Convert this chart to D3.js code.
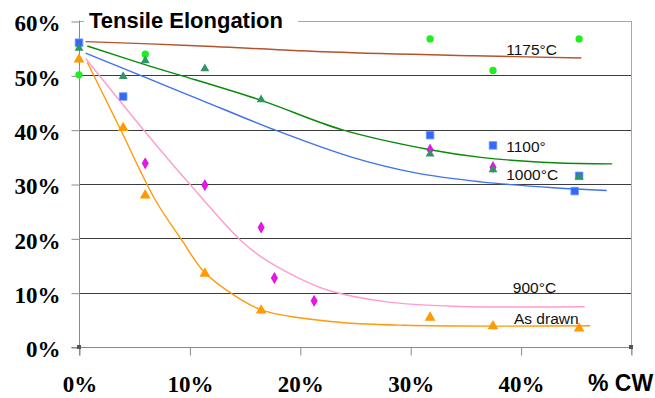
<!DOCTYPE html>
<html><head><meta charset="utf-8">
<script src="https://cdn.jsdelivr.net/npm/d3@7"></script>
<style>
html,body{margin:0;padding:0;background:#fff;}
svg{display:block;}
</style></head>
<body>
<svg id="chart" width="655" height="398"></svg>
<script>
// ---- data (percent cold work vs. percent elongation) ----
const yTicks = [0, 10, 20, 30, 40, 50, 60];
const xTicks = [0, 10, 20, 30, 40];
const xTickLabels = ["0%", "10%", "20%", "30%", "40%"];
const xAxisTitle = "% CW";
const chartTitle = "Tensile Elongation";

const cw1175 = [0, 6.0, 31.8, 37.5, 45.3];
const el1175 = [50.1, 53.9, 56.7, 50.9, 56.7];

const cw1100 = [0, 4.0, 31.8, 37.5, 44.9, 45.3];
const el1100 = [56.0, 46.1, 39.0, 37.1, 28.7, 31.5];

const cw900 = [6.0, 11.4, 16.5, 17.7, 21.3, 31.8, 37.5];
const el900 = [33.8, 29.8, 22.0, 12.7, 8.5, 36.3, 33.1];

const cw1000 = [0, 4.0, 6.0, 11.4, 16.5, 31.8, 37.5, 45.3];
const el1000 = [55.2, 50.0, 52.9, 51.4, 45.7, 35.7, 32.8, 31.5];

const cwDrawn = [0, 4.0, 6.0, 11.4, 16.5, 31.8, 37.5, 45.3];
const elDrawn = [53.1, 40.5, 28.1, 13.7, 6.9, 5.6, 4.0, 3.6];

// trend lines
const trend1175 = [[0.6,56.2],[10,55.5],[22.8,54.3],[35.8,53.6],[45.5,53.2]];
const trend1100 = [[0.6,54.1],[6.4,49.3],[11,45.5],[17.8,39.9],[24.6,35.0],[30.6,32.0],[36.4,30.4],[43,29.3],[47.8,28.8]];
const trend1000 = [[0.75,55.4],[6.4,51.7],[9.2,50.0],[16.5,45.4],[23.8,40.0],[31.8,36.3],[36.4,34.9],[43,33.9],[48.3,33.7]];
const trend900  = [[0.6,53.1],[6.4,38.6],[10.1,29.8],[14.6,19.7],[16.5,16.6],[20,12.6],[22.8,10.3],[27.9,8.3],[33.9,7.5],[45.8,7.4]];
const trendDrawn = [[0.75,52.4],[3.65,40.5],[6.9,27.1],[9.3,19.7],[11.3,13.9],[14,9.6],[16.7,6.7],[22.8,4.7],[29.4,4.0],[46.3,3.9]];

const seriesLabels = ["1175°C", "1100°", "1000°C", "900°C", "As drawn"];
const labelAnchorX = [38.7, 38.7, 38.7, 39.3, 39.4];
const labelAnchorY = [53.7, 35.9, 30.8, 10.0, 4.3];

// ---- layout ----
const W = 655, H = 398;
const L = 79, R = 631, T = 21, B = 347;
const SERIF = '"Liberation Serif"';
const SANS = '"Liberation Sans"';
const svg = d3.select("#chart");
const x = d3.scaleLinear().domain([0, 50]).range([L, R]);
const y = d3.scaleLinear().domain([0, 60]).range([B, T]);

svg.append("rect").attr("width", W).attr("height", H).attr("fill", "#fff");

// gridlines
svg.append("g").selectAll("line").data(yTicks.filter(d => d > 0)).join("line")
  .attr("x1", L).attr("x2", R)
  .attr("y1", d => Math.round(y(d)) + 0.5).attr("y2", d => Math.round(y(d)) + 0.5)
  .attr("stroke", d => d === 60 ? "#a6a6a6" : "#3c3c3c").attr("stroke-width", 1);
// right border
svg.append("line").attr("x1", R + 0.5).attr("x2", R + 0.5).attr("y1", T).attr("y2", B + 8)
  .attr("stroke", "#a6a6a6");

// y axis
const yAxis = d3.axisLeft(y).tickValues(yTicks).tickSize(8).tickFormat(d => d + "%");
const gy = svg.append("g").attr("transform", `translate(${L + 0.5},0.5)`).call(yAxis);
gy.select(".domain").attr("stroke", "#8a8a8a").attr("d", `M0,${T - 1}V${B + 8}`);
gy.selectAll(".tick line").attr("stroke", "#8a8a8a");
gy.selectAll(".tick text")
  .attr("x", -19).attr("dy", "0.40em")
  .style("font-family", SERIF).style("font-weight", "bold").style("font-size", "23px")
  .attr("fill", "#000");

// x axis
const xAxis = d3.axisBottom(x).tickValues([0, 10, 20, 30, 40, 50]).tickSize(8)
  .tickFormat((d, i) => i < xTickLabels.length ? xTickLabels[i] : "");
const gx = svg.append("g").attr("transform", `translate(0.5,${B + 0.5})`).call(xAxis);
gx.select(".domain").attr("stroke", "#8a8a8a").attr("d", `M${L - 8},0H${R}`);
gx.selectAll(".tick line").attr("stroke", "#8a8a8a");
gx.selectAll(".tick text")
  .attr("y", 44).attr("dy", 0)
  .style("font-family", SERIF).style("font-weight", "bold").style("font-size", "23px")
  .attr("fill", "#000");

svg.append("text").attr("x", 588).attr("y", 391).text(xAxisTitle)
  .style("font-family", SANS).style("font-weight", "bold").style("font-size", "23px")
  .attr("fill", "#000");

// small corner markers
[[0, 0], [50, 0]].forEach(p => {
  svg.append("rect").attr("x", x(p[0]) - 2).attr("y", y(p[1]) - 2).attr("width", 4).attr("height", 4)
    .attr("fill", "#555");
});

// trend lines
const line = d3.line().x(d => x(d[0])).y(d => y(d[1])).curve(d3.curveCatmullRom.alpha(0.5));
const trends = [
  [trend1175, "#b5532c"],
  [trend1000, "#0a8a0a"],
  [trend1100, "#3d72f0"],
  [trend900, "#ff9ccf"],
  [trendDrawn, "#ff9a0a"]
];
trends.forEach(t => {
  svg.append("path").attr("d", line(t[0])).attr("fill", "none")
    .attr("stroke", t[1]).attr("stroke-width", 1.4);
});

// markers
const pts = (xs, ys) => xs.map((v, i) => [v, ys[i]]);
const sym = (type, size) => d3.symbol().type(type).size(size);

svg.append("g").selectAll("path").data(pts(cw1175, el1175)).join("path")
  .attr("transform", d => `translate(${x(d[0])},${y(d[1])})`)
  .attr("d", sym(d3.symbolCircle, 42)).attr("fill", "#1fee1f");

svg.append("g").selectAll("path").data(pts(cw1100, el1100)).join("path")
  .attr("transform", d => `translate(${x(d[0])},${y(d[1])})`)
  .attr("d", sym(d3.symbolSquare, 58)).attr("fill", "#3369f5").attr("stroke", "#6f98ff").attr("stroke-width", 0.8);

svg.append("g").selectAll("path").data(pts(cw900, el900)).join("path")
  .attr("transform", d => `translate(${x(d[0])},${y(d[1])})`)
  .attr("d", sym(d3.symbolDiamond, 34)).attr("fill", "#f010f0").attr("stroke", "#b000c0").attr("stroke-width", 0.6);

svg.append("g").selectAll("path").data(pts(cw1000, el1000)).join("path")
  .attr("transform", d => `translate(${x(d[0])},${y(d[1]) + 1})`)
  .attr("d", sym(d3.symbolTriangle, 34)).attr("fill", "#2f9466");

svg.append("g").selectAll("path").data(pts(cwDrawn, elDrawn)).join("path")
  .attr("transform", d => `translate(${x(d[0])},${y(d[1]) + 1})`)
  .attr("d", sym(d3.symbolTriangle, 50)).attr("fill", "#ff9a00");

// series labels
svg.append("g").selectAll("text").data(seriesLabels).join("text")
  .attr("x", (d, i) => x(labelAnchorX[i])).attr("y", (d, i) => y(labelAnchorY[i]))
  .text(d => d)
  .style("font-family", SANS).style("font-size", "15.5px").attr("fill", "#111");

// title with white backing
svg.append("rect").attr("x", 84).attr("y", 8).attr("width", 214).attr("height", 26).attr("fill", "#fff");
svg.append("text").attr("x", 89).attr("y", 27.5).text(chartTitle)
  .style("font-family", SANS).style("font-weight", "bold").style("font-size", "22px")
  .attr("fill", "#000");
</script>
</body></html>
